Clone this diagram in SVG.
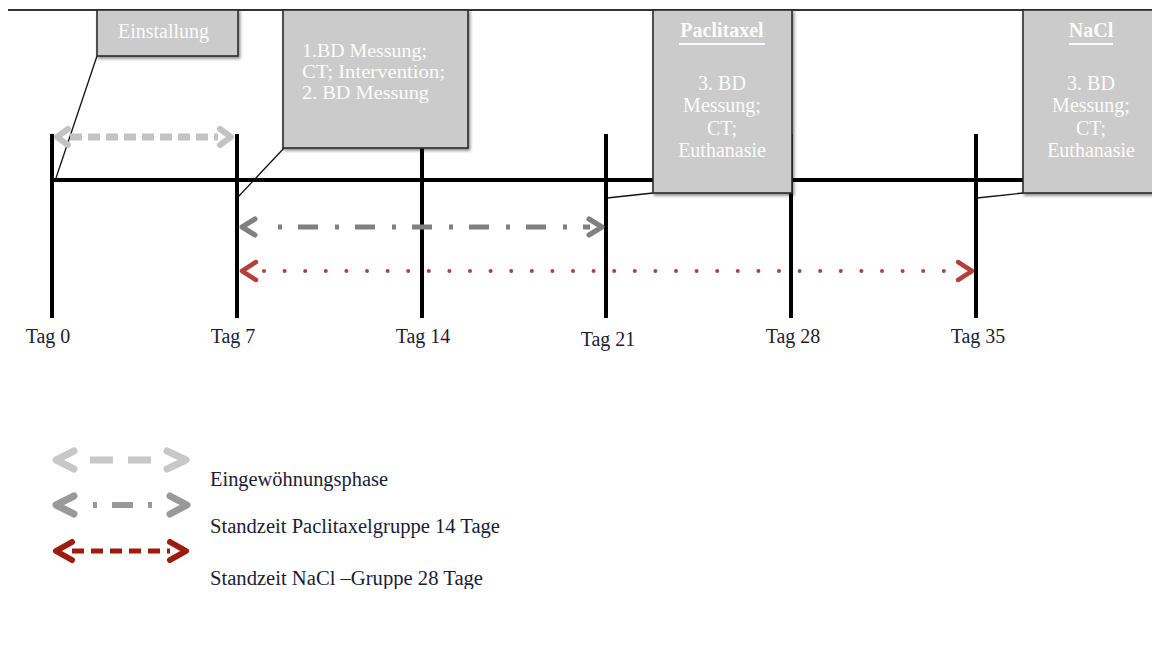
<svg xmlns="http://www.w3.org/2000/svg" width="1152" height="651" viewBox="0 0 1152 651">
<style>
.box{fill:#cbcbcb;stroke:#2b2b2b;stroke-width:1.6;filter:url(#sh)}
.bt{font-family:"Liberation Serif","Times New Roman",serif;font-size:20px;fill:#fbfbfb}
.bt2{font-family:"Liberation Serif","Times New Roman",serif;font-size:18px;fill:#fbfbfb}
.lbl{font-family:"Liberation Serif","Times New Roman",serif;font-size:20px;fill:#1c1c36}
.tick{stroke:#000;stroke-width:4;fill:none}
.lead{stroke:#111;stroke-width:1.3;fill:none}
.ah{fill:none;stroke-linecap:round;stroke-linejoin:round}
</style>
<defs>
<filter id="sh" x="-20%" y="-20%" width="140%" height="140%">
<feDropShadow dx="1.5" dy="2" stdDeviation="1.5" flood-color="#000" flood-opacity="0.45"/>
</filter>
<filter id="blur" x="-10%" y="-50%" width="120%" height="200%">
<feGaussianBlur stdDeviation="0.7"/>
</filter>
<clipPath id="clipBottom"><rect x="0" y="0" width="1152" height="589"/></clipPath>
</defs>
<rect width="1152" height="651" fill="#ffffff"/>

<g id="top-line"><line x1="8" y1="10" x2="1152" y2="10" stroke="#333" stroke-width="2"/></g>

<g id="timeline">
<line x1="52" y1="180" x2="1023" y2="180" stroke="#000" stroke-width="4"/>
<line class="tick" x1="52" y1="134" x2="52" y2="318"/>
<line class="tick" x1="237" y1="134" x2="237" y2="318"/>
<line class="tick" x1="422" y1="148" x2="422" y2="318"/>
<line class="tick" x1="606" y1="134" x2="606" y2="318"/>
<line class="tick" x1="791" y1="134" x2="791" y2="318"/>
<line class="tick" x1="976" y1="134" x2="976" y2="318"/>
</g>

<g id="connectors">
<line class="lead" x1="97" y1="56" x2="56" y2="178"/>
<line class="lead" x1="285" y1="147" x2="238" y2="197"/>
<line class="lead" x1="607" y1="198" x2="653" y2="193"/>
<line class="lead" x1="977" y1="198" x2="1023" y2="193"/>
<g id="arrow-eingewoehnung" filter="url(#blur)">
<line x1="70" y1="137" x2="218" y2="137" stroke="#c3c3c3" stroke-width="7" stroke-dasharray="12 6"/>
<polyline class="ah" points="68,129 57,137 68,145" stroke="#c3c3c3" stroke-width="6"/>
<polyline class="ah" points="220,129 231,137 220,145" stroke="#c3c3c3" stroke-width="6"/>
</g>
<g id="arrow-paclitaxel" filter="url(#blur)">
<line x1="278" y1="227" x2="590" y2="227" stroke="#808080" stroke-width="5" stroke-dasharray="4 16 20 17"/>
<polyline class="ah" points="255,219 242,227 255,235" stroke="#808080" stroke-width="5"/>
<polyline class="ah" points="589,219 602,227 589,235" stroke="#808080" stroke-width="5"/>
</g>
<g id="arrow-nacl" filter="url(#blur)">
<line x1="264" y1="271" x2="960" y2="271" stroke="#b4403d" stroke-width="4" stroke-linecap="round" stroke-dasharray="0 20.6"/>
<polyline class="ah" points="256,262 242,271 256,280" stroke="#b4403d" stroke-width="4.5"/>
<polyline class="ah" points="958,262 972,271 958,280" stroke="#b4403d" stroke-width="4.5"/>
</g>
</g>

<g id="node-einstallung">
<rect class="box" x="97" y="10" width="141" height="46"/>
<text class="bt" x="163.5" y="38" text-anchor="middle">Einstallung</text>
</g>

<g id="node-bd">
<rect class="box" x="283" y="10" width="185" height="138"/>
<text class="bt2" x="302" y="57" textLength="125" lengthAdjust="spacingAndGlyphs">1.BD Messung;</text>
<text class="bt2" x="302" y="78" textLength="143" lengthAdjust="spacingAndGlyphs">CT; Intervention;</text>
<text class="bt2" x="302" y="99" textLength="127" lengthAdjust="spacingAndGlyphs">2. BD Messung</text>
</g>

<g id="node-paclitaxel">
<rect class="box" x="653" y="10" width="139" height="183"/>
<text class="bt" x="722" y="37" text-anchor="middle" font-weight="bold">Paclitaxel</text>
<line x1="679" y1="44" x2="765" y2="44" stroke="#fbfbfb" stroke-width="1.8"/>
<text class="bt" x="722" y="90" text-anchor="middle">3. BD</text>
<text class="bt" x="722" y="112" text-anchor="middle">Messung;</text>
<text class="bt" x="722" y="135" text-anchor="middle">CT;</text>
<text class="bt" x="722" y="157" text-anchor="middle">Euthanasie</text>
</g>

<g id="node-nacl">
<rect class="box" x="1023" y="10" width="140" height="183"/>
<text class="bt" x="1091" y="37" text-anchor="middle" font-weight="bold">NaCl</text>
<line x1="1069" y1="44" x2="1113" y2="44" stroke="#fbfbfb" stroke-width="1.8"/>
<text class="bt" x="1091" y="90" text-anchor="middle">3. BD</text>
<text class="bt" x="1091" y="112" text-anchor="middle">Messung;</text>
<text class="bt" x="1091" y="135" text-anchor="middle">CT;</text>
<text class="bt" x="1091" y="157" text-anchor="middle">Euthanasie</text>
</g>

<g id="tag-labels">
<text class="lbl" x="48" y="343" text-anchor="middle">Tag 0</text>
<text class="lbl" x="233" y="343" text-anchor="middle">Tag 7</text>
<text class="lbl" x="423" y="343" text-anchor="middle">Tag 14</text>
<text class="lbl" x="608" y="346" text-anchor="middle">Tag 21</text>
<text class="lbl" x="793" y="343" text-anchor="middle">Tag 28</text>
<text class="lbl" x="978" y="343" text-anchor="middle">Tag 35</text>
</g>

<g id="legend">
<g filter="url(#blur)">
<line x1="90" y1="460" x2="152" y2="460" stroke="#c8c8c8" stroke-width="7" stroke-dasharray="23 15"/>
<polyline class="ah" points="74,451 56,460 74,469" stroke="#c8c8c8" stroke-width="7"/>
<polyline class="ah" points="167,451 186,460 167,469" stroke="#c8c8c8" stroke-width="7"/>
<line x1="93" y1="505" x2="154" y2="505" stroke="#999999" stroke-width="6" stroke-dasharray="4 15 21 15"/>
<polyline class="ah" points="74,496 56,505 74,514" stroke="#999999" stroke-width="7"/>
<polyline class="ah" points="170,496 187,505 170,514" stroke="#999999" stroke-width="7"/>
<line x1="72" y1="551" x2="170" y2="551" stroke="#9c1c0e" stroke-width="5" stroke-dasharray="12 7"/>
<polyline class="ah" points="72,542 56,551 72,560" stroke="#9c1c0e" stroke-width="6"/>
<polyline class="ah" points="170,542 186,551 170,560" stroke="#9c1c0e" stroke-width="6"/>
</g>
<g clip-path="url(#clipBottom)">
<text class="lbl" x="210" y="486" textLength="178" lengthAdjust="spacingAndGlyphs">Eingewöhnungsphase</text>
<text class="lbl" x="210" y="533" textLength="290" lengthAdjust="spacingAndGlyphs">Standzeit Paclitaxelgruppe 14 Tage</text>
<text class="lbl" x="210" y="585" textLength="273" lengthAdjust="spacingAndGlyphs">Standzeit NaCl –Gruppe 28 Tage</text>
</g>
</g>
</svg>
